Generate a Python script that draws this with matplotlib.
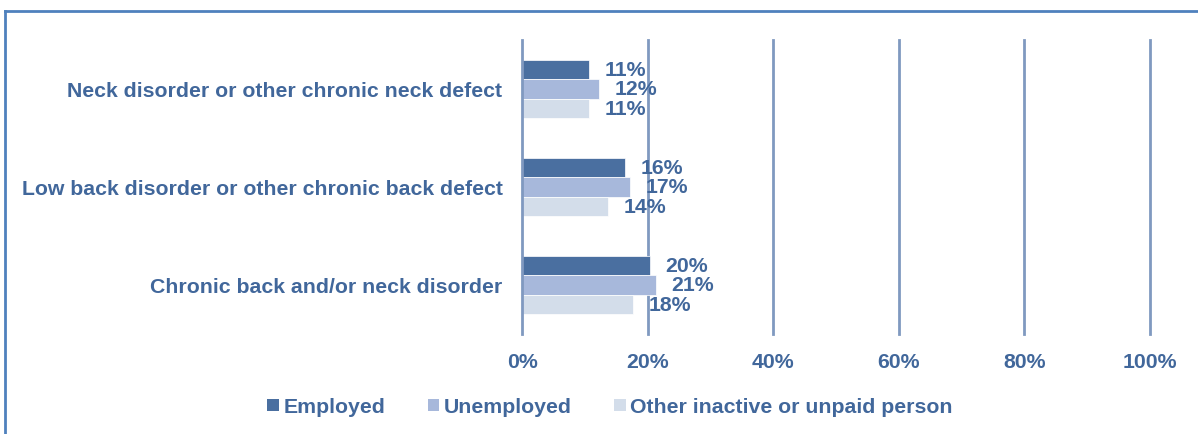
import matplotlib
matplotlib.use("Agg")
import matplotlib.pyplot as plt
import numpy as np
from matplotlib.lines import Line2D
from matplotlib.patches import Patch

plt.rcParams['font.family'] = ['Liberation Sans', 'DejaVu Sans']

categories = ["Neck disorder or other chronic neck defect",
              "Low back disorder or other chronic back defect",
              "Chronic back and/or neck disorder"]
series_names = ["Employed", "Unemployed", "Other inactive or unpaid person"]
employed = [10.7, 16.4, 20.4]
unemployed = [12.3, 17.2, 21.3]
other = [10.7, 13.7, 17.7]
x_ticks = [0, 20, 40, 60, 80, 100]
x_tick_labels = ["0%", "20%", "40%", "60%", "80%", "100%"]

colors = ["#4A6FA0", "#A7B8DB", "#D3DDEA"]
text_color = "#41679B"
grid_color = "#8099C0"
FS = 15.3

fig = plt.figure(figsize=(11.98, 4.35), dpi=100)
ax = fig.add_axes([522/1198, 1-335/435, (1150-522)/1198, (335-41)/435])

n = len(categories)
y = np.arange(n)
bh = 0.194
series = [employed, unemployed, other]
for i, (vals, col) in enumerate(zip(series, colors)):
    pos = y + (i - 1) * bh
    bars = ax.barh(pos, vals, height=bh, color=col, edgecolor='white', linewidth=0.5, zorder=3)
    for b, v in zip(bars, vals):
        ax.annotate(f"{round(v):d}%", (b.get_width(), b.get_y() + b.get_height()/2),
                    xytext=(11, 0), textcoords='offset points', ha='left', va='center',
                    fontsize=FS, fontweight='bold', color=text_color, zorder=4)

ax.set_ylim(n - 0.5, -0.5)
ax.set_xlim(0, 100)
ax.set_xticks(x_ticks)
ax.set_xticklabels(x_tick_labels)
ax.set_yticks(y)
ax.set_yticklabels(categories)
ax.tick_params(axis='both', length=0, labelsize=FS, labelcolor=text_color)
ax.tick_params(axis='x', pad=13)
ax.tick_params(axis='y', pad=14)
for lbl in ax.get_xticklabels() + ax.get_yticklabels():
    lbl.set_fontweight('bold')
for s in ax.spines.values():
    s.set_visible(False)
for xt in x_ticks:
    ax.axvline(xt, color=grid_color, linewidth=2, zorder=1 if xt else 5, clip_on=False)

handles = [Patch(facecolor=c, edgecolor='none') for c in colors]
leg = fig.legend(handles, series_names, loc='center', bbox_to_anchor=(610/1198, 1-408/435),
                 ncol=3, frameon=False, prop={'weight': 'bold', 'size': FS},
                 handlelength=0.55, handleheight=0.55, handletextpad=0.2, columnspacing=2.0)
for t in leg.get_texts():
    t.set_color(text_color)

# outer frame (top and left edges)
fig.add_artist(Line2D([5/1198, 5/1198], [0, 1-12/435], transform=fig.transFigure, color="#4F81BD", linewidth=2))
fig.add_artist(Line2D([5/1198, 1], [1-12/435, 1-12/435], transform=fig.transFigure, color="#4F81BD", linewidth=2))

fig.savefig("out.png", dpi=100)
